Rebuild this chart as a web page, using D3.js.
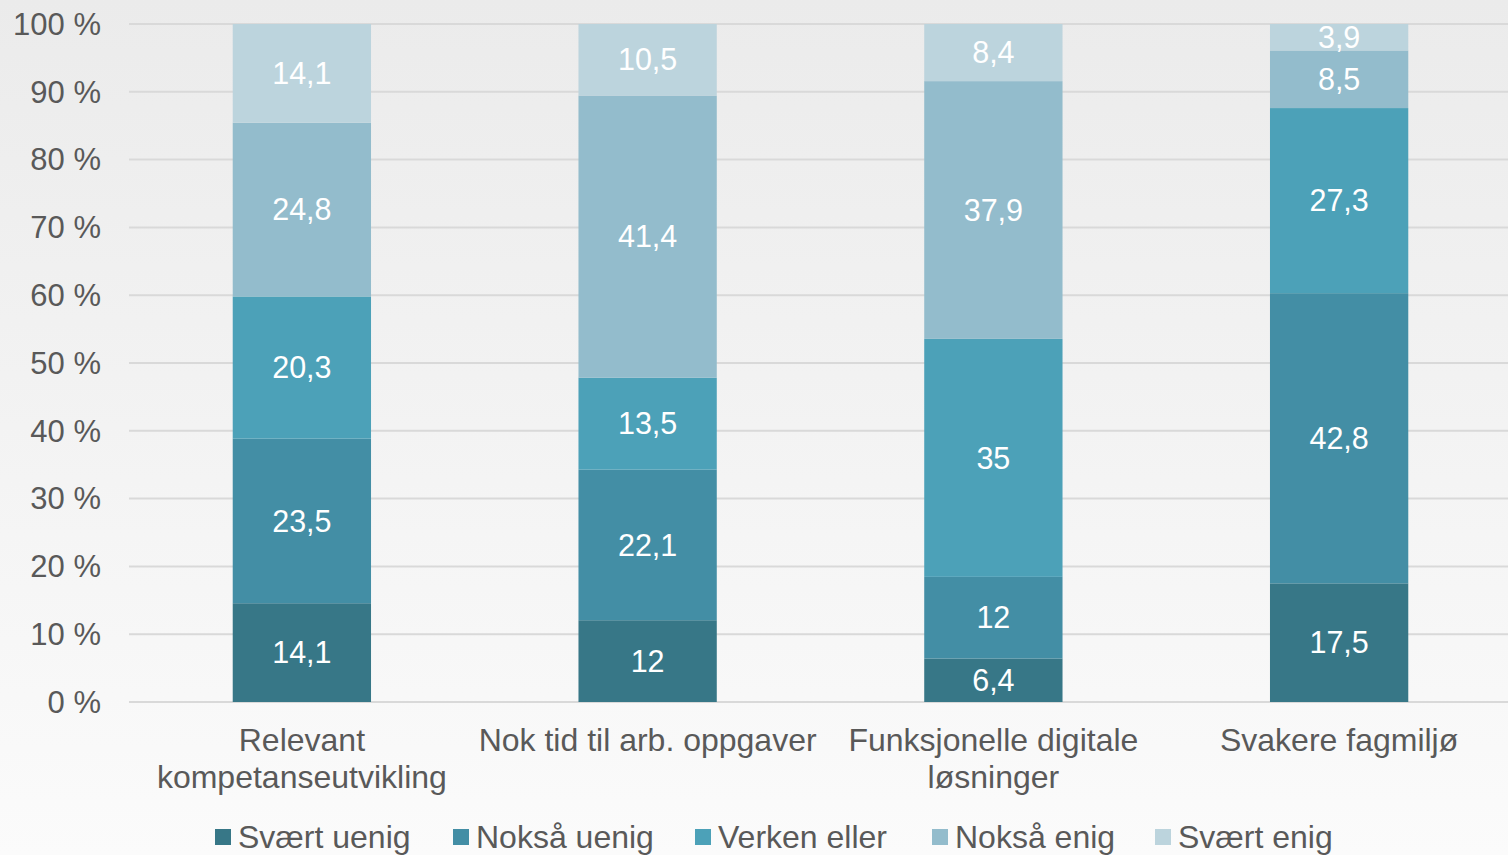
<!DOCTYPE html>
<html lang="en">
<head>
<meta charset="UTF-8">
<title>Stacked bars</title>
<style>
    body { margin: 0; }
    svg text { font-family: "Liberation Sans", Arial, sans-serif; }
</style>
</head>
<body>
<div id="chart"></div>
<script src="https://d3js.org/d3.v7.min.js"></script>
<script>
    const categories = [
        ["Relevant", "kompetanseutvikling"],
        ["Nok tid til arb. oppgaver"],
        ["Funksjonelle digitale", "løsninger"],
        ["Svakere fagmiljø"]
    ];
    const seriesNames = ["Svært uenig", "Nokså uenig", "Verken eller", "Nokså enig", "Svært enig"];
    const svaertUenig = [14.1, 12, 6.4, 17.5];
    const noksaUenig = [23.5, 22.1, 12, 42.8];
    const verkenEller = [20.3, 13.5, 35, 27.3];
    const noksaEnig = [24.8, 41.4, 37.9, 8.5];
    const svaertEnig = [14.1, 10.5, 8.4, 3.9];
    const yTicks = [0, 0.1, 0.2, 0.3, 0.4, 0.5, 0.6, 0.7, 0.8, 0.9, 1];

    const colors = ["#377787", "#438ea5", "#4ca1b8", "#93bccc", "#bcd4dd"];
    const seriesValues = [svaertUenig, noksaUenig, verkenEller, noksaEnig, svaertEnig];

    const rows = categories.map((c, i) => {
        const r = { idx: i };
        seriesNames.forEach((s, j) => r[s] = seriesValues[j][i]);
        return r;
    });

    const width = 1508, height = 855;
    const plotLeft = 129, plotRight = 1512, plotTop = 24, plotBottom = 702;

    const svg = d3.select("#chart").append("svg")
        .attr("width", width)
        .attr("height", height);

    const grad = svg.append("defs").append("linearGradient")
        .attr("id", "bg").attr("x1", 0).attr("y1", 0).attr("x2", 0).attr("y2", 1);
    grad.append("stop").attr("offset", "0%").attr("stop-color", "#ebebeb");
    grad.append("stop").attr("offset", "100%").attr("stop-color", "#fbfbfb");

    svg.append("rect").attr("width", width).attr("height", height).attr("fill", "url(#bg)");

    const x = d3.scaleBand()
        .domain(d3.range(categories.length))
        .range([plotLeft, plotRight])
        .paddingInner(0.6)
        .paddingOuter(0.3);

    const y = d3.scaleLinear().domain([0, 1]).range([plotBottom, plotTop]);

    // gridlines
    svg.append("g").selectAll("line")
        .data(yTicks)
        .enter().append("line")
        .attr("x1", plotLeft).attr("x2", width)
        .attr("y1", d => y(d)).attr("y2", d => y(d))
        .attr("stroke", "#d9d9d9")
        .attr("stroke-width", 2);

    // y labels
    svg.append("g").selectAll("text")
        .data(yTicks)
        .enter().append("text")
        .attr("x", 101)
        .attr("y", d => y(d))
        .attr("dy", "0.35em")
        .attr("text-anchor", "end")
        .attr("font-size", 31)
        .attr("fill", "#595959")
        .text(d => Math.round(d * 100) + " %");

    const stack = d3.stack().keys(seriesNames).offset(d3.stackOffsetExpand);
    const stacked = stack(rows);

    const fmt = v => String(v).replace(".", ",");

    const groups = svg.append("g").selectAll("g")
        .data(stacked)
        .enter().append("g")
        .attr("fill", (d, i) => colors[i]);

    groups.selectAll("rect")
        .data(d => d)
        .enter().append("rect")
        .attr("x", d => x(d.data.idx))
        .attr("width", x.bandwidth())
        .attr("y", d => y(d[1]))
        .attr("height", d => y(d[0]) - y(d[1]));

    groups.each(function(s) {
        d3.select(this).selectAll("text")
            .data(s)
            .enter().append("text")
            .attr("x", d => x(d.data.idx) + x.bandwidth() / 2)
            .attr("y", d => (y(d[0]) + y(d[1])) / 2)
            .attr("dy", "0.35em")
            .attr("text-anchor", "middle")
            .attr("font-size", 30.5)
            .attr("fill", "#ffffff")
            .text(d => fmt(d.data[s.key]));
    });

    // category labels
    const cat = svg.append("g").selectAll("text")
        .data(categories)
        .enter().append("text")
        .attr("x", (d, i) => x(i) + x.bandwidth() / 2)
        .attr("y", 740)
        .attr("text-anchor", "middle")
        .attr("font-size", 32)
        .attr("fill", "#595959");
    cat.selectAll("tspan")
        .data(d => d)
        .enter().append("tspan")
        .attr("x", function() { return d3.select(this.parentNode).attr("x"); })
        .attr("dy", (d, i) => i === 0 ? "0.35em" : "1.15em")
        .text(d => d);

    // legend
    const legendX = [215, 453, 695, 932, 1155];
    const legend = svg.append("g").selectAll("g")
        .data(seriesNames)
        .enter().append("g")
        .attr("transform", (d, i) => `translate(${legendX[i]},837)`);
    legend.append("rect")
        .attr("x", 0).attr("y", -8)
        .attr("width", 16).attr("height", 16)
        .attr("fill", (d, i) => colors[i]);
    legend.append("text")
        .attr("x", 23)
        .attr("dy", "0.35em")
        .attr("font-size", 32)
        .attr("fill", "#595959")
        .text(d => d);
</script>
</body>
</html>
